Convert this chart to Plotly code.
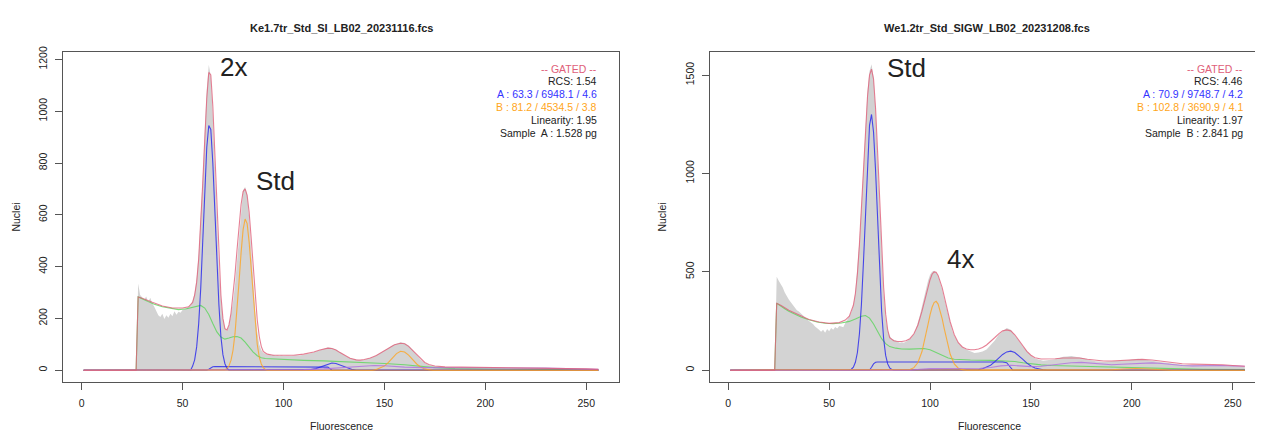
import plotly.graph_objects as go

# ---------------- LEFT PANEL DATA ----------------
L_title = "Ke1.7tr_Std_SI_LB02_20231116.fcs"
L_hist_x = [27, 28, 29, 30, 31, 32, 33, 34, 35, 36, 37, 38, 39, 40, 41, 42, 43, 44, 45, 46, 47, 48, 49, 50,
            51, 52, 53, 54, 55, 56, 57, 58, 59, 60, 61, 62, 63, 64, 65, 66, 67, 68, 69, 70, 71, 72, 73, 74,
            75, 76, 77, 78, 79, 80, 81, 82, 83, 84, 85, 86, 87, 88, 89, 90, 91, 92, 93, 94, 95, 96, 97, 98,
            99, 100, 102, 104, 106, 108, 110, 112, 114, 116, 118, 120, 122, 124, 126, 128, 130, 132, 134,
            136, 138, 140, 142, 144, 146, 148, 150, 152, 154, 156, 158, 160, 162, 164, 166, 168, 170, 172,
            174, 176, 178, 180, 190, 200, 210, 220, 230, 240, 250, 256]
L_hist_y = [0, 335, 290, 280, 272, 285, 262, 280, 258, 245, 228, 212, 205, 218, 198, 212, 203, 218, 208, 228,
            214, 226, 222, 232, 236, 240, 246, 252, 268, 298, 355, 450, 585, 745, 925, 1085, 1180, 1135, 985,
            775, 565, 395, 275, 200, 162, 150, 172, 212, 262, 330, 425, 535, 635, 695, 708, 680, 590, 470, 340,
            230, 150, 100, 78, 66, 64, 60, 62, 58, 60, 56, 58, 55, 57, 55, 56, 55, 58, 57, 60, 62, 66, 72, 78,
            84, 88, 86, 80, 70, 60, 50, 44, 40, 38, 40, 44, 50, 58, 66, 76, 86, 96, 102, 108, 105, 95, 78, 58,
            40, 28, 20, 16, 14, 13, 12, 11, 11, 10, 10, 9, 7, 5, 3]
L_fit_x = [1, 27, 28, 30, 35, 40, 45, 50, 53, 55, 56, 57, 58, 59, 60, 61, 62, 63, 64, 65, 66, 67, 68, 69, 70,
           71, 72, 73, 74, 75, 76, 77, 78, 79, 80, 81, 82, 83, 84, 85, 86, 87, 88, 89, 90, 92, 95, 100, 105,
           110, 115, 118, 120, 122, 124, 126, 128, 130, 133, 136, 138, 140, 143, 146, 149, 152, 155, 158, 160,
           162, 164, 166, 168, 170, 172, 175, 180, 190, 200, 210, 220, 230, 240, 250, 256]
L_fit_y = [0, 0, 283, 278, 262, 248, 240, 240, 245, 262, 290, 340, 430, 560, 720, 890, 1050, 1150, 1140, 1020,
           830, 620, 430, 290, 200, 160, 155, 175, 220, 285, 370, 465, 560, 640, 690, 700, 675, 610, 510, 395,
           285, 195, 130, 92, 72, 62, 58, 57, 58, 62, 70, 78, 82, 85, 84, 78, 68, 58, 46, 40, 39, 41, 47, 57,
           70, 85, 98, 104, 102, 92, 76, 58, 42, 30, 22, 16, 13, 12, 11, 11, 10, 9, 7, 5, 3]
L_debris_x = [1, 27, 28, 30, 33, 36, 40, 44, 48, 52, 55, 57, 59, 61, 63, 65, 67, 69, 71, 73, 75, 77, 79, 81,
              83, 85, 87, 89, 91, 95, 100, 110, 120, 130, 140, 150, 160, 168, 175, 185, 200, 230, 256]
L_debris_y = [0, 0, 283, 276, 265, 255, 245, 238, 234, 237, 243, 248, 250, 240, 215, 180, 148, 128, 120, 124,
              129, 130, 124, 108, 88, 70, 56, 48, 45, 43, 41, 38, 36, 33, 30, 26, 21, 15, 10, 6, 4, 3, 2]
L_A1_x = [1, 54, 55, 56, 57, 58, 59, 60, 61, 62, 63, 64, 65, 66, 67, 68, 69, 70, 71, 72, 73, 256]
L_A1_y = [0, 0, 16, 40, 90, 180, 315, 500, 690, 860, 945, 930, 800, 610, 410, 255, 130, 60, 25, 8, 0, 0]
L_AS_x = [1, 62, 63, 64, 65, 66, 120, 122, 123, 124, 256]
L_AS_y = [0, 0, 4, 10, 13, 14, 14, 12, 6, 0, 0]
L_A2_x = [1, 110, 113, 116, 118, 120, 122, 124, 126, 128, 130, 132, 134, 136, 256]
L_A2_y = [0, 0, 2, 6, 11, 18, 24, 28, 26, 20, 13, 7, 3, 0, 0]
L_B1_x = [1, 70, 71, 72, 73, 74, 75, 76, 77, 78, 79, 80, 81, 82, 83, 84, 85, 86, 87, 88, 89, 90, 91, 92, 256]
L_B1_y = [0, 0, 2, 7, 17, 38, 77, 142, 233, 342, 453, 543, 584, 566, 494, 389, 275, 175, 100, 51, 24, 10, 3, 0, 0]
L_B2_x = [1, 144, 146, 148, 150, 152, 154, 156, 158, 160, 162, 164, 166, 168, 170, 172, 174, 256]
L_B2_y = [0, 0, 3, 8, 16, 30, 48, 64, 73, 70, 58, 40, 24, 12, 5, 2, 0, 0]
L_agg_x = [1, 100, 110, 120, 130, 140, 145, 150, 160, 170, 180, 190, 200, 210, 220, 230, 240, 250, 256]
L_agg_y = [0, 0, 2, 5, 10, 16, 18, 17, 12, 10, 10, 10, 9, 9, 9, 8, 6, 4, 3]
L_info = ["-- GATED --", "RCS: 1.54", "A : 63.3 / 6948.1 / 4.6", "B : 81.2 / 4534.5 / 3.8",
          "Linearity: 1.95", "Sample  A : 1.528 pg"]
L_yticks = [0, 200, 400, 600, 800, 1000, 1200]
L_labels = [("2x", 67.6, 1171), ("Std", 85.3, 730)]

# ---------------- RIGHT PANEL DATA ----------------
R_title = "We1.2tr_Std_SIGW_LB02_20231208.fcs"
R_hist_x = [23, 24, 25, 26, 27, 28, 29, 30, 31, 32, 33, 34, 35, 36, 37, 38, 39, 40, 41, 42, 43, 44, 45, 46,
            47, 48, 49, 50, 51, 52, 53, 54, 55, 56, 57, 58, 59, 60, 61, 62, 63, 64, 65, 66, 67, 68, 69, 70,
            71, 72, 73, 74, 75, 76, 77, 78, 79, 80, 81, 82, 83, 84, 85, 86, 87, 88, 89, 90, 91, 92, 93, 94,
            95, 96, 97, 98, 99, 100, 101, 102, 103, 104, 105, 106, 107, 108, 109, 110, 111, 112, 113, 114,
            115, 116, 117, 118, 119, 120, 122, 124, 126, 128, 130, 132, 134, 136, 138, 140, 142, 144, 146,
            148, 150, 152, 154, 156, 158, 160, 162, 164, 166, 168, 170, 172, 174, 176, 178, 180, 182, 184,
            186, 188, 190, 192, 195, 198, 200, 203, 206, 210, 214, 218, 222, 226, 230, 235, 240, 244, 248,
            252, 256]
R_hist_y = [0, 475, 455, 440, 420, 395, 375, 360, 345, 330, 320, 305, 298, 288, 275, 268, 255, 250, 242, 235,
            222, 215, 205, 195, 205, 190, 210, 198, 215, 205, 220, 212, 225, 222, 218, 240, 255, 275, 295, 330,
            400, 510, 660, 840, 1040, 1250, 1420, 1520, 1555, 1490, 1320, 1080, 820, 580, 390, 265, 200, 175,
            160, 155, 150, 146, 140, 142, 140, 145, 150, 158, 170, 185, 210, 240, 280, 325, 370, 415, 455, 485,
            500, 505, 498, 480, 450, 410, 365, 320, 275, 235, 200, 175, 155, 140, 128, 118, 110, 105, 100, 95,
            88, 90, 95, 105, 125, 150, 180, 200, 215, 205, 180, 150, 120, 95, 75, 60, 52, 48, 50, 52, 56, 62,
            68, 70, 72, 68, 66, 62, 55, 50, 46, 44, 42, 44, 45, 44, 46, 50, 55, 58, 55, 50, 42, 36, 30, 26, 25,
            26, 28, 27, 22, 20, 18]
R_fit_x = [1, 23, 24, 26, 30, 35, 40, 45, 50, 55, 58, 60, 62, 63, 64, 65, 66, 67, 68, 69, 70, 71, 72, 73, 74,
           75, 76, 77, 78, 79, 80, 82, 84, 86, 88, 90, 92, 94, 96, 98, 100, 101, 102, 103, 104, 106, 108, 110,
           112, 114, 116, 118, 120, 122, 124, 126, 128, 130, 132, 134, 136, 138, 140, 142, 144, 146, 148, 150,
           152, 155, 158, 162, 166, 170, 174, 178, 182, 186, 190, 195, 200, 205, 210, 215, 220, 225, 230, 235,
           240, 245, 250, 256]
R_fit_y = [0, 0, 340, 330, 305, 280, 258, 245, 238, 242, 255, 275, 330, 390, 490, 640, 820, 1020, 1220, 1390,
           1500, 1530, 1480, 1330, 1110, 860, 620, 420, 285, 205, 165, 150, 146, 146, 150, 160, 185, 230, 300,
           385, 460, 488, 500, 498, 482, 420, 330, 245, 180, 140, 118, 108, 104, 104, 108, 115, 128, 145, 165,
           185, 200, 205, 200, 180, 152, 122, 96, 76, 63, 57, 56, 58, 62, 63, 62, 56, 50, 47, 47, 50, 54, 55,
           52, 45, 38, 33, 31, 30, 30, 28, 24, 20]
R_debris_x = [1, 23, 24, 26, 28, 30, 33, 36, 40, 44, 48, 52, 56, 60, 63, 66, 68, 70, 72, 74, 76, 78, 80, 83,
              86, 90, 94, 97, 100, 103, 106, 109, 112, 116, 120, 130, 138, 142, 146, 150, 155, 160, 170, 180,
              190, 200, 210, 220, 235, 256]
R_debris_y = [0, 0, 340, 325, 312, 300, 285, 270, 256, 245, 239, 237, 240, 248, 260, 274, 278, 265, 235, 195,
              160, 135, 120, 112, 108, 107, 108, 110, 104, 90, 74, 62, 56, 53, 52, 50, 48, 44, 38, 32, 27, 24,
              21, 19, 16, 12, 9, 6, 4, 3]
R_A1_x = [1, 60, 61, 62, 63, 64, 65, 66, 67, 68, 69, 70, 71, 72, 73, 74, 75, 76, 77, 78, 79, 80, 81, 82, 256]
R_A1_y = [0, 0, 5, 15, 40, 90, 185, 335, 550, 800, 1060, 1245, 1300, 1210, 1015, 760, 505, 300, 160, 75, 32,
          12, 4, 0, 0]
R_AS_x = [1, 70, 71, 72, 73, 74, 136, 138, 139, 140, 141, 256]
R_AS_y = [0, 0, 15, 32, 40, 42, 42, 38, 25, 10, 0, 0]
R_A2_x = [1, 122, 124, 126, 128, 130, 132, 134, 136, 138, 140, 142, 144, 146, 148, 150, 152, 154, 156, 158, 256]
R_A2_y = [0, 0, 3, 7, 14, 25, 42, 61, 80, 93, 97, 90, 74, 55, 36, 21, 11, 5, 2, 0, 0]
R_B1_x = [1, 88, 90, 92, 94, 96, 97, 98, 99, 100, 101, 102, 103, 104, 105, 106, 107, 108, 110, 112, 114, 116,
          118, 256]
R_B1_y = [0, 0, 3, 13, 39, 95, 136, 183, 233, 281, 320, 344, 350, 336, 305, 262, 213, 163, 81, 32, 10, 3, 0, 0]
R_B2_x = [1, 186, 190, 196, 202, 208, 214, 220, 256]
R_B2_y = [0, 0, 2, 6, 9, 6, 2, 0, 0]
R_agg_x = [1, 90, 95, 100, 110, 120, 125, 130, 135, 140, 145, 150, 155, 160, 165, 170, 175, 180, 185, 190, 195,
           200, 205, 210, 215, 220, 225, 230, 235, 240, 245, 250, 256]
R_agg_y = [0, 0, 5, 8, 9, 9, 10, 14, 22, 25, 22, 18, 20, 26, 33, 38, 40, 36, 30, 28, 30, 33, 36, 37, 34, 28,
           24, 22, 23, 25, 24, 22, 20]
R_info = ["-- GATED --", "RCS: 4.46", "A : 70.9 / 9748.7 / 4.2", "B : 102.8 / 3690.9 / 4.1",
          "Linearity: 1.97", "Sample  B : 2.841 pg"]
R_yticks = [0, 500, 1000, 1500]
R_labels = [("Std", 77.8, 1535), ("4x", 107.4, 565)]

x_ticks = [0, 50, 100, 150, 200, 250]

# ---------------- STYLE / LAYOUT ----------------
PAGE_W, PAGE_H = 1263, 432
OFF = 8  # default body margin of the page
W, H = PAGE_W - OFF, PAGE_H - OFF
FONT = "Liberation Sans, Arial, sans-serif"
TXT = "#222222"
C_FIT = "#E0607A"
C_A = "#2424EE"
C_B = "#FFA520"
C_DEB = "#5CD65C"
C_AGG = "#B070E0"
C_HIST = "#D3D3D3"
INFO_COLORS = ["#E0607A", TXT, "#3333FF", "#FFA520", TXT, TXT]


def px(xp):
    return (xp - OFF) / W


def py(yp):
    return 1 - (yp - OFF) / H


fig = go.Figure()


def add_panel(xa, ya, hx, hy, comps, fit):
    fig.add_trace(go.Scatter(x=hx, y=hy, mode="lines", fill="tozeroy", fillcolor=C_HIST,
                             line=dict(width=0, color=C_HIST), xaxis=xa, yaxis=ya,
                             hoverinfo="skip", showlegend=False))
    for (cx, cy, col) in comps + [fit]:
        fig.add_trace(go.Scatter(x=cx, y=cy, mode="lines", line=dict(width=1.1, color=col),
                                 opacity=0.8, xaxis=xa, yaxis=ya, hoverinfo="skip", showlegend=False))


add_panel("x", "y", L_hist_x, L_hist_y,
          [(L_debris_x, L_debris_y, C_DEB), (L_A1_x, L_A1_y, C_A), (L_AS_x, L_AS_y, C_A),
           (L_A2_x, L_A2_y, C_A), (L_B1_x, L_B1_y, C_B), (L_B2_x, L_B2_y, C_B),
           (L_agg_x, L_agg_y, C_AGG)],
          (L_fit_x, L_fit_y, C_FIT))
add_panel("x2", "y2", R_hist_x, R_hist_y,
          [(R_debris_x, R_debris_y, C_DEB), (R_A1_x, R_A1_y, C_A), (R_AS_x, R_AS_y, C_A),
           (R_A2_x, R_A2_y, C_A), (R_B1_x, R_B1_y, C_B), (R_B2_x, R_B2_y, C_B),
           (R_agg_x, R_agg_y, C_AGG)],
          (R_fit_x, R_fit_y, C_FIT))

ydom = [py(381.7), py(47.0)]
axis_common = dict(showgrid=False, zeroline=False, showline=True, linecolor="#555555", linewidth=1,
                   ticks="outside", ticklen=7, tickcolor="#555555", tickwidth=1,
                   tickfont=dict(family=FONT, size=10.5, color=TXT))

fig.update_layout(
    width=W, height=H, margin=dict(l=0, r=0, t=0, b=0),
    paper_bgcolor="white", plot_bgcolor="white", showlegend=False,
    xaxis=dict(domain=[px(63), px(619)], range=[-9.22, 266.22], tickvals=x_ticks, mirror=True,
               anchor="y", ticklabelstandoff=4, **axis_common),
    yaxis=dict(domain=ydom, range=[-47.2, 1227.2], tickvals=L_yticks, mirror=True, anchor="x",
               tickangle=-90, ticklabelstandoff=4, **axis_common),
    xaxis2=dict(domain=[px(709.7), 1.0], range=[-9.2, 265.0], tickvals=x_ticks, mirror=True,
                anchor="y2", ticklabelstandoff=4, **axis_common),
    yaxis2=dict(domain=ydom, range=[-62.1, 1615.3], tickvals=R_yticks, mirror=False, anchor="x2",
                tickangle=-90, ticklabelstandoff=4, **axis_common),
)

ann = []
for t, cx in ((L_title, 341), (R_title, 987)):
    ann.append(dict(text="<b>%s</b>" % t, x=px(cx), y=py(22), xref="paper", yref="paper",
                    showarrow=False, xanchor="center", yanchor="middle",
                    font=dict(family=FONT, size=11, color=TXT)))
for cx in (341, 989):
    ann.append(dict(text="Fluorescence", x=px(cx), y=py(426), xref="paper", yref="paper",
                    showarrow=False, xanchor="center", yanchor="middle",
                    font=dict(family=FONT, size=10.5, color=TXT)))
for cx in (16.5, 662.5):
    ann.append(dict(text="Nuclei", x=px(cx), y=py(214), xref="paper", yref="paper",
                    showarrow=False, xanchor="center", yanchor="middle", textangle=-90,
                    font=dict(family=FONT, size=10.5, color=TXT)))
info_y = [63.3, 75.5, 89.0, 102.3, 115.3, 128.3]
for lines, rx in ((L_info, 598.5), (R_info, 1244.5)):
    for t, yy, col in zip(lines, info_y, INFO_COLORS):
        ann.append(dict(text=t, x=px(rx), y=py(yy), xref="paper", yref="paper", showarrow=False,
                        xanchor="right", yanchor="middle", font=dict(family=FONT, size=10.5, color=col)))
for labs, xr, yr in ((L_labels, "x", "y"), (R_labels, "x2", "y2")):
    for t, lx, ly in labs:
        ann.append(dict(text=t, x=lx, y=ly, xref=xr, yref=yr, showarrow=False, xanchor="left",
                        yanchor="middle", font=dict(family=FONT, size=26, color=TXT)))

fig.update_layout(annotations=ann)
fig.write_html("out.html")
